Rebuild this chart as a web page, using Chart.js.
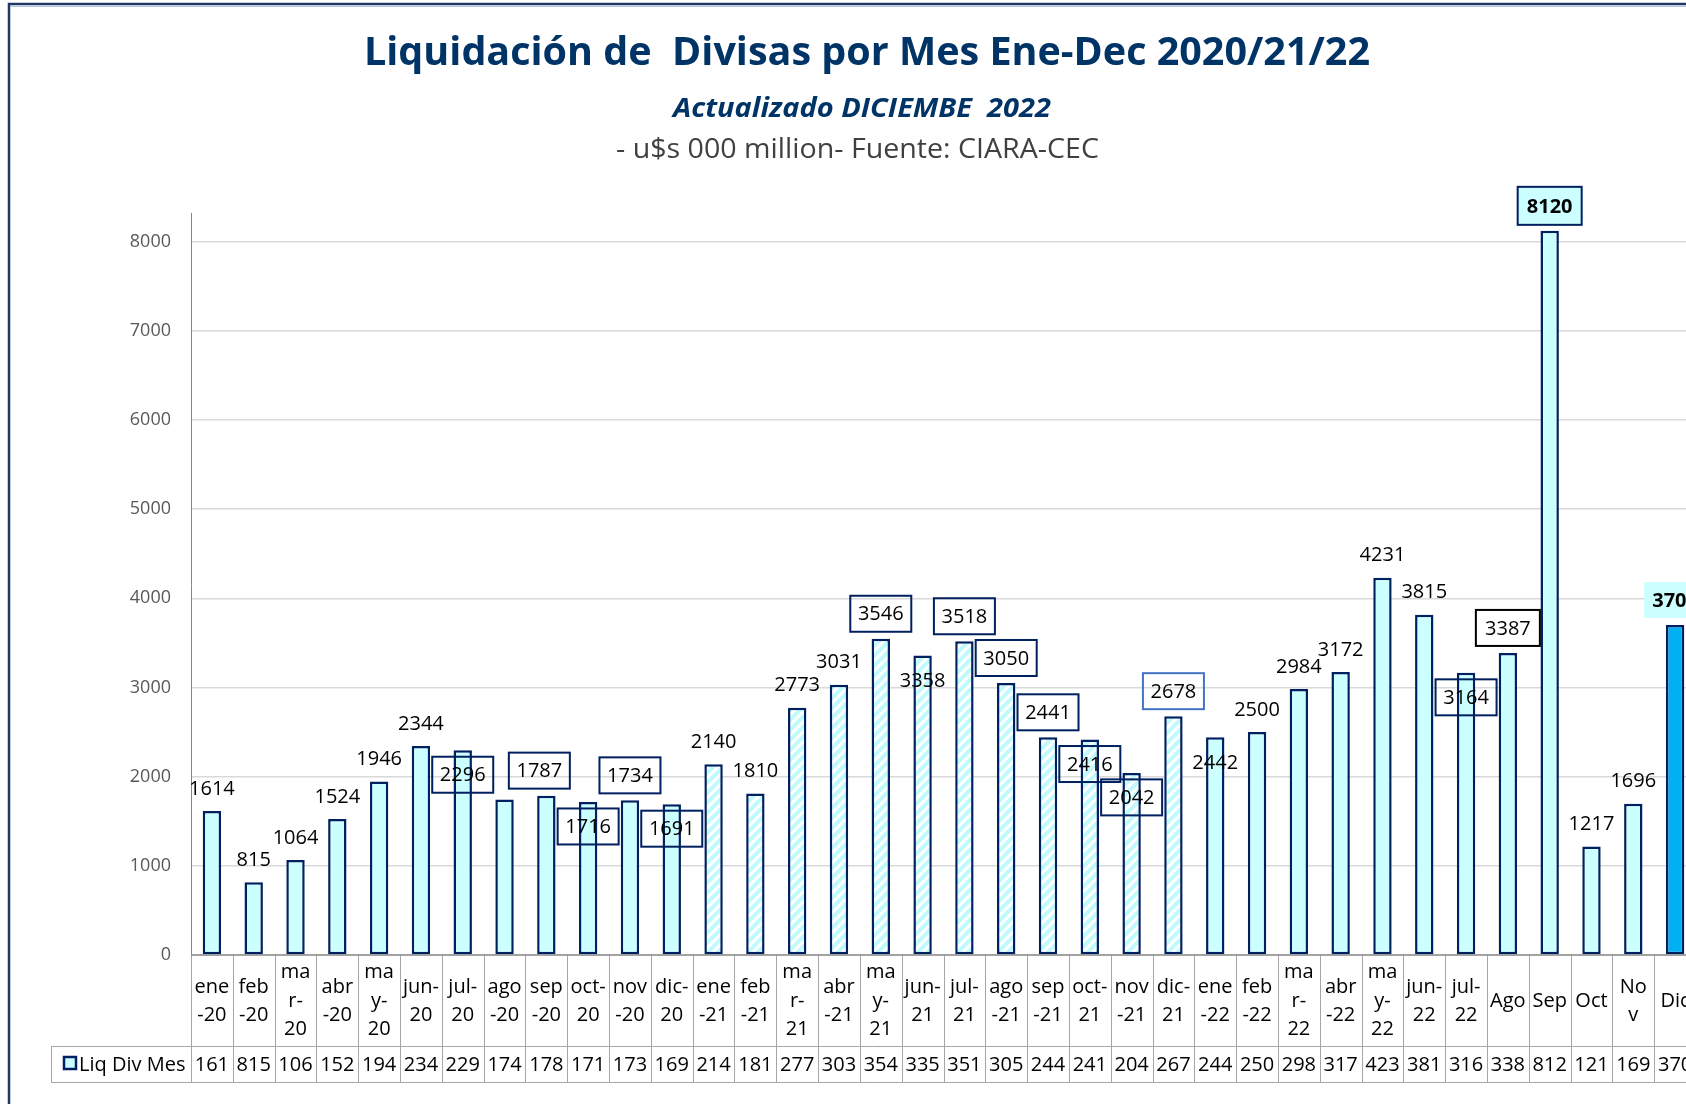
<!DOCTYPE html>
<html>
<head>
<meta charset="utf-8">
<script src="https://cdn.jsdelivr.net/npm/chart.js@4"></script>
<style>
  html, body { margin: 0; padding: 0; background: #fff; overflow: hidden; }
  canvas { display: block; }
</style>
</head>
<body>
<canvas id="chart" width="1720" height="1104"></canvas>
<script>
// category labels as Excel wraps them in the data table
const categories = [
  ['ene', '-20'], ['feb', '-20'], ['ma', 'r-', '20'], ['abr', '-20'], ['ma', 'y-', '20'], ['jun-', '20'],
  ['jul-', '20'], ['ago', '-20'], ['sep', '-20'], ['oct-', '20'], ['nov', '-20'], ['dic-', '20'],
  ['ene', '-21'], ['feb', '-21'], ['ma', 'r-', '21'], ['abr', '-21'], ['ma', 'y-', '21'], ['jun-', '21'],
  ['jul-', '21'], ['ago', '-21'], ['sep', '-21'], ['oct-', '21'], ['nov', '-21'], ['dic-', '21'],
  ['ene', '-22'], ['feb', '-22'], ['ma', 'r-', '22'], ['abr', '-22'], ['ma', 'y-', '22'], ['jun-', '22'],
  ['jul-', '22'], ['Ago'], ['Sep'], ['Oct'], ['No', 'v'], ['Dic']
];

const values2020 = [1614, 815, 1064, 1524, 1946, 2344, 2296, 1745, 1787, 1716, 1734, 1691];
const values2021 = [2140, 1810, 2773, 3031, 3546, 3358, 3518, 3050, 2441, 2416, 2042, 2678];
const values2022 = [2442, 2500, 2984, 3172, 4231, 3815, 3164, 3387, 8120, 1217, 1696, 3700];

const yTicks = [0, 1000, 2000, 3000, 4000, 5000, 6000, 7000, 8000];

const seriesName = 'Liq Div Mes';
const values = values2020.concat(values2021, values2022);

// how each data label sits: a/b plain above/below, A/B boxed above/below
const labelPlace = [
  'a', 'a', 'a', 'a', 'a', 'a', 'B', '', 'A', 'B', 'A', 'B',
  'a', 'a', 'a', 'a', 'A', 'b', 'A', 'A', 'A', 'B', 'B', 'A',
  'b', 'a', 'a', 'a', 'a', 'a', 'B', 'A', 'A', 'a', 'a', 'F'
];

const FONT = '"Open Sans", "Noto Sans", sans-serif';
const NAVY = '#002060';
const CYAN = '#CCFFFF';

function stripePattern() {
  const c = document.createElement('canvas');
  c.width = 10;
  c.height = 10;
  const g = c.getContext('2d');
  g.fillStyle = '#ffffff';
  g.fillRect(0, 0, 10, 10);
  g.strokeStyle = '#BFFAFF';
  g.lineWidth = 4;
  g.beginPath();
  g.moveTo(-2, 2); g.lineTo(2, -2);
  g.moveTo(0, 10); g.lineTo(10, 0);
  g.moveTo(8, 12); g.lineTo(12, 8);
  g.stroke();
  return document.getElementById('chart').getContext('2d').createPattern(c, 'repeat');
}

const stripes = stripePattern();
const barColors = values.map((v, i) => {
  if (i >= 12 && i < 24) return stripes;
  if (i === values.length - 1) return '#00B0F0';
  return CYAN;
});

// text stretched/squeezed to the width the Excel font had
function fitText(ctx, text, cx, y, font, color, width) {
  ctx.save();
  ctx.font = font;
  ctx.fillStyle = color;
  ctx.textAlign = 'center';
  ctx.textBaseline = 'alphabetic';
  const w = ctx.measureText(text).width;
  const s = Math.max(0.8, Math.min(1.2, width / w));
  ctx.translate(cx, y);
  ctx.scale(s, 1);
  ctx.fillText(text, 0, 0);
  ctx.restore();
}

const frameAndTitles = {
  id: 'frameAndTitles',
  beforeDraw(chart) {
    const ctx = chart.ctx;
    ctx.save();
    ctx.fillStyle = '#ffffff';
    ctx.fillRect(0, 0, chart.width, chart.height);
    ctx.strokeStyle = '#1F3864';
    ctx.lineWidth = 2.5;
    ctx.beginPath();
    ctx.moveTo(9, chart.height);
    ctx.lineTo(9, 4);
    ctx.lineTo(chart.width, 4);
    ctx.stroke();
    ctx.strokeStyle = '#B4C7E7';
    ctx.lineWidth = 1;
    ctx.beginPath();
    ctx.moveTo(10.5, 6.5);
    ctx.lineTo(chart.width, 6.5);
    ctx.stroke();
    ctx.restore();

    fitText(ctx, 'Liquidación de  Divisas por Mes Ene-Dec 2020/21/22', 867, 65,
      'bold 40px ' + FONT, '#003366', 1006);
    fitText(ctx, 'Actualizado DICIEMBE  2022', 862, 116.5,
      'italic bold 26px ' + FONT, '#003366', 378);
    fitText(ctx, '- u$s 000 million- Fuente: CIARA-CEC', 857.5, 158,
      '27px ' + FONT, '#404040', 483);
  }
};

const dataLabels = {
  id: 'dataLabels',
  afterDatasetsDraw(chart) {
    const ctx = chart.ctx;
    const meta = chart.getDatasetMeta(0);
    ctx.save();
    ctx.textAlign = 'center';
    ctx.textBaseline = 'middle';
    meta.data.forEach((bar, i) => {
      const place = labelPlace[i];
      if (!place) return;
      const text = String(values[i]);
      let cx = bar.x;
      let cy = bar.y;
      let bold = false;
      if (place === 'a') cy -= 23;
      else if (place === 'b') cy += 25;
      else if (place === 'A') cy -= 25;
      else if (place === 'B') cy += 24.5;
      else if (place === 'F') cy -= 25;
      if (i === 8) cx -= 7;

      if (place === 'A' || place === 'B' || place === 'F') {
        let w = 61, h = 36, stroke = NAVY, fill = null;
        if (i === 23) stroke = '#4472C4';
        if (i === 31) { stroke = '#000000'; w = 64; }
        if (i === 32) { fill = CYAN; w = 64; h = 38; bold = true; }
        if (place === 'F') { fill = CYAN; stroke = null; w = 62; bold = true; }
        if (fill) {
          ctx.fillStyle = fill;
          ctx.fillRect(cx - w / 2, cy - h / 2, w, h);
        }
        if (stroke) {
          ctx.strokeStyle = stroke;
          ctx.lineWidth = 2;
          ctx.strokeRect(cx - w / 2, cy - h / 2, w, h);
        }
      }
      ctx.font = (bold ? 'bold ' : '') + '20px ' + FONT;
      ctx.fillStyle = '#000000';
      ctx.fillText(text, cx, cy + 1);
    });
    ctx.restore();
  }
};

const dataTable = {
  id: 'dataTable',
  afterDraw(chart) {
    const ctx = chart.ctx;
    const x = chart.scales.x;
    const area = chart.chartArea;
    const top = area.bottom;
    const mid = 1046;
    const bottom = 1082;
    const tableLeft = 51;
    const step = (x.right - x.left) / categories.length;

    ctx.save();
    ctx.strokeStyle = '#A6A6A6';
    ctx.lineWidth = 1;
    ctx.beginPath();
    for (let i = 0; i <= categories.length; i++) {
      const px = Math.round(x.left + i * step) + 0.5;
      ctx.moveTo(px, top);
      ctx.lineTo(px, bottom);
    }
    ctx.moveTo(tableLeft, mid + 0.5);
    ctx.lineTo(x.right, mid + 0.5);
    ctx.moveTo(tableLeft, bottom + 0.5);
    ctx.lineTo(x.right, bottom + 0.5);
    ctx.moveTo(tableLeft + 0.5, mid);
    ctx.lineTo(tableLeft + 0.5, bottom);
    ctx.stroke();

    ctx.strokeStyle = '#8C8C8C';
    ctx.lineWidth = 1.5;
    ctx.beginPath();
    ctx.moveTo(x.left, top);
    ctx.lineTo(x.right, top);
    ctx.stroke();

    ctx.font = '20px ' + FONT;
    ctx.fillStyle = '#000000';
    ctx.textAlign = 'center';
    ctx.textBaseline = 'middle';
    const lineH = 28.3;
    categories.forEach((lines, i) => {
      const cx = x.getPixelForValue(i);
      const y0 = 1001 - (lines.length - 1) * lineH / 2;
      lines.forEach((ln, k) => ctx.fillText(ln, cx, y0 + k * lineH));
      ctx.fillText(String(values[i]).slice(0, 3), cx, 1065);
    });

    // legend key
    ctx.fillStyle = CYAN;
    ctx.fillRect(64, 1057, 12, 12);
    ctx.strokeStyle = NAVY;
    ctx.lineWidth = 2.5;
    ctx.strokeRect(64, 1057, 12, 12);
    ctx.fillStyle = '#000000';
    ctx.textAlign = 'left';
    ctx.fillText(seriesName, 79, 1065);
    ctx.restore();
  }
};

new Chart(document.getElementById('chart'), {
  type: 'bar',
  data: {
    labels: categories.map(c => c.join('')),
    datasets: [{
      label: seriesName,
      data: values,
      backgroundColor: barColors,
      borderColor: NAVY,
      borderWidth: 2.5,
      borderSkipped: false,
      categoryPercentage: 1,
      barPercentage: 0.44
    }]
  },
  options: {
    responsive: false,
    animation: false,
    layout: {
      padding: { top: 213, bottom: 149, left: 0, right: 24 }
    },
    plugins: {
      legend: { display: false },
      title: { display: false },
      tooltip: { enabled: false }
    },
    scales: {
      x: {
        display: false
      },
      y: {
        min: 0,
        max: 8320,
        afterFit: (scale) => { scale.width = 191; },
        afterBuildTicks: (scale) => { scale.ticks = yTicks.map(v => ({ value: v })); },
        grid: {
          color: '#D9D9D9',
          lineWidth: 1.5,
          drawTicks: false
        },
        border: { display: true, color: '#868686', width: 1 },
        ticks: {
          padding: 20,
          color: '#595959',
          font: { family: FONT, size: 18 },
          callback: (v) => String(v)
        }
      }
    }
  },
  plugins: [frameAndTitles, dataLabels, dataTable]
});
</script>
</body>
</html>
